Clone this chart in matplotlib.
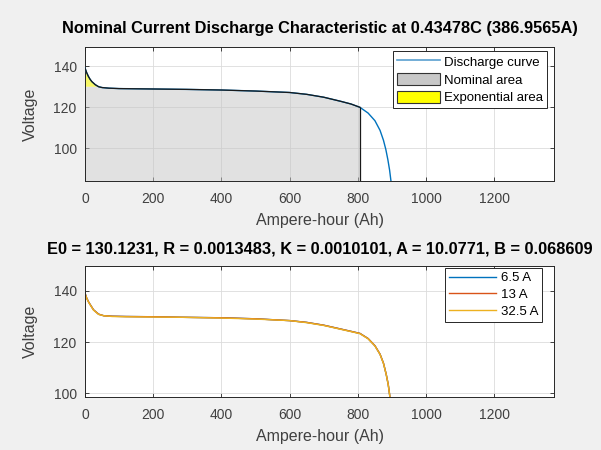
import numpy as np
import matplotlib
matplotlib.use("Agg")
import matplotlib.pyplot as plt
from matplotlib.patches import Patch
from matplotlib.lines import Line2D

plt.rcParams['font.family'] = ['Liberation Sans', 'DejaVu Sans']

# nominal current discharge (386.9565 A)
top_ah = [0, 5, 10, 15, 20, 30, 40, 50, 70, 100, 200, 300, 400, 500, 600, 650,
          700, 750, 780, 806, 830, 850, 865, 875, 882, 888, 893, 897]
top_v = [139.1, 136.8, 135.0, 133.6, 132.5, 131.0, 130.0, 129.6, 129.3, 129.1,
         128.9, 128.7, 128.4, 127.9, 127.2, 126.3, 124.9, 122.9, 121.6, 120.0,
         117.2, 113.5, 108.8, 104.0, 99.5, 94.5, 89.5, 84.2]
q_exp, v_exp = 40, 130.0
q_nom, v_nom = 806, 120.0

# discharge at 6.5 A, 13 A, 32.5 A
bot_ah = [0, 5, 10, 15, 25, 40, 55, 80, 120, 200, 280, 400, 500, 600, 650, 700,
          750, 780, 806, 830, 850, 865, 875, 883, 889, 894]
v_6_5 = [139.1, 137.2, 135.8, 134.7, 132.6, 130.9, 130.3, 130.1, 130.0, 129.9,
         129.7, 129.5, 129.1, 128.4, 127.7, 126.6, 125.1, 124.2, 123.4, 121.4,
         118.6, 115.3, 111.8, 107.5, 103.5, 98.6]
v_13 = [139.1, 137.2, 135.8, 134.7, 132.6, 130.9, 130.3, 130.1, 130.0, 129.9,
        129.7, 129.5, 129.1, 128.4, 127.7, 126.6, 125.1, 124.2, 123.4, 121.4,
        118.6, 115.3, 111.8, 107.5, 103.5, 98.6]
v_32_5 = [139.0, 137.1, 135.7, 134.6, 132.5, 130.8, 130.3, 130.0, 129.9, 129.8,
          129.7, 129.4, 129.0, 128.4, 127.6, 126.5, 125.0, 124.1, 123.3, 121.3,
          118.5, 115.2, 111.7, 107.4, 103.4, 98.6]
currents = ['6.5 A', '13 A', '32.5 A']

xticks = [0, 200, 400, 600, 800, 1000, 1200]
yticks = [100, 120, 140]

blue = '#0072BD'
orange = '#D95319'
yellow = '#EDB120'
dark = '#262626'
grey_txt = '#404040'


def style(ax):
    ax.set_xlim(0, 1375)
    ax.set_xticks(xticks)
    ax.set_yticks(yticks)
    ax.grid(True, color='#dcdcdc', linewidth=0.6)
    ax.set_axisbelow(True)
    ax.tick_params(direction='in', top=True, right=True, length=3,
                   width=0.6, colors=dark, labelsize=10, labelcolor=grey_txt)
    ax.tick_params(axis='x', pad=8)
    ax.tick_params(axis='y', pad=6)
    for s in ax.spines.values():
        s.set_color(dark)
        s.set_linewidth(0.7)
    ax.set_xlabel('Ampere-hour (Ah)', fontsize=11.5, color=grey_txt, labelpad=5)
    ax.set_ylabel('Voltage', fontsize=11.5, color=grey_txt, labelpad=11)


fig = plt.figure(figsize=(6.01, 4.5), dpi=100, facecolor='#f0f0f0')
ax1 = fig.add_axes([85 / 601, 1 - 181 / 450, 469 / 601, 134 / 450])
ax2 = fig.add_axes([85 / 601, 1 - 397 / 450, 469 / 601, 131 / 450])

# top plot
x = np.array(top_ah, dtype=float)
y = np.array(top_v)
ylo = 84.2
ax1.set_ylim(ylo, 149.3)
ax1.plot(x, y, color=blue, linewidth=1.0, zorder=3)
nom = x <= q_nom
ax1.fill_between(x[nom], ylo, np.minimum(y[nom], v_exp), facecolor='#c4c4c4',
                 alpha=0.5, linewidth=0, zorder=2)
ex = x <= q_exp
ax1.fill_between(x[ex], v_exp, y[ex], facecolor='#f2f200', alpha=0.6,
                 linewidth=0, zorder=2)
ax1.plot(x[nom], y[nom], color='#1a1a1a', linewidth=0.9, zorder=4)
ax1.vlines(q_nom, ylo, v_nom, color='#1a1a1a', linewidth=0.9, zorder=4)
style(ax1)
ax1.set_title('Nominal Current Discharge Characteristic at 0.43478C (386.9565A)',
              fontsize=11.8, fontweight='bold', color='black', pad=10)
handles = [Line2D([], [], color='#5a9fd0', linewidth=1.2),
           Patch(facecolor='#c8c8c8', edgecolor='#333333', linewidth=0.8),
           Patch(facecolor='#ffff00', edgecolor='#333333', linewidth=0.8)]
leg = ax1.legend(handles, ['Discharge curve', 'Nominal area', 'Exponential area'],
                 loc='upper right', bbox_to_anchor=(0.985, 0.97), fontsize=9.5,
                 fancybox=False, framealpha=1, edgecolor=dark, handlelength=3.3,
                 handleheight=1.1, handletextpad=0.3, labelspacing=0.3,
                 borderpad=0.3, borderaxespad=0)
leg.get_frame().set_linewidth(0.7)

# bottom plot
ax2.set_ylim(98.6, 149.7)
for v, c, lab in zip([v_6_5, v_13, v_32_5], [blue, orange, yellow], currents):
    ax2.plot(bot_ah, v, color=c, linewidth=1.0, label=lab)
style(ax2)
ax2.set_title('E0 = 130.1231, R = 0.0013483, K = 0.0010101, A = 10.0771, B = 0.068609',
              fontsize=11.8, fontweight='bold', color='black', pad=9)
leg2 = ax2.legend(loc='upper right', bbox_to_anchor=(0.975, 0.985), fontsize=9.5,
                  fancybox=False, framealpha=1, edgecolor=dark, handlelength=3.6,
                  handletextpad=0.35, labelspacing=0.35, borderpad=0.3,
                  borderaxespad=0)
leg2.get_frame().set_linewidth(0.7)

fig.savefig('out.png', dpi=100, facecolor=fig.get_facecolor())
